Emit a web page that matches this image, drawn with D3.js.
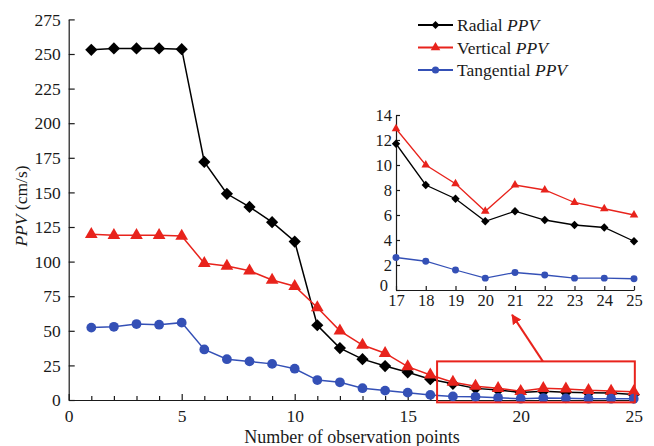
<!DOCTYPE html>
<html><head><meta charset="utf-8">
<script src="https://cdn.jsdelivr.net/npm/d3@7"></script>
<style>body{margin:0;background:#fff}svg{display:block}</style>
</head><body><svg id="c" width="654" height="446"></svg>
<script>
const points = d3.range(1, 26);
const radial = [253,254,254,254,253.5,172,149,139.5,128.5,114.5,54,37.5,29.5,24.5,20,15,11.7,8.4,7.3,5.5,6.3,5.6,5.2,5.0,3.9];
const vertical = [119.7,119,119,119,118.5,98.8,96.8,93.4,86.7,82.2,66.8,50,39.7,33.8,24.1,18.1,12.9,10.0,8.5,6.3,8.4,8.0,7.0,6.5,6.0];
const tangential = [52.3,52.9,54.9,54.4,55.9,36.5,29.5,27.9,26.1,22.6,14.4,12.8,8.5,6.8,5.3,3.7,2.6,2.3,1.6,0.95,1.4,1.2,0.95,0.95,0.9];
const seriesNames = ["Radial", "Vertical", "Tangential"];
const colors = ["#000000", "#e8231c", "#3450b6"];
const symbols = [d3.symbolDiamond2, d3.symbolTriangle, d3.symbolCircle];
const xTicks = [0,5,10,15,20,25];
const yTicks = [0,25,50,75,100,125,150,175,200,225,250,275];
const insetXTicks = [17,18,19,20,21,22,23,24,25];
const insetYTicks = [0,2,4,6,8,10,12,14];
const zoomRange = {x0: 16.3, x1: 25.05, y0: -1.7, y1: 27.9};

const FONT = "Liberation Serif";
const data = [radial, vertical, tangential];
const svg = d3.select("#c");
const x = d3.scaleLinear().domain([0,25]).range([68.7,633.7]);
const y = d3.scaleLinear().domain([0,275]).range([400,19.4]);

function styleAxis(g, fs){
  g.selectAll("path,line").attr("stroke","#1a1a1a").attr("stroke-width",1.2);
  g.selectAll("text").attr("font-size",fs);
}
// main axes
const xa = svg.append("g").attr("transform","translate(0,400)")
  .call(d3.axisBottom(x).tickValues(xTicks).tickSizeInner(-6).tickSizeOuter(0).tickPadding(10));
styleAxis(xa,17.5);
const xminor = svg.append("g").attr("transform","translate(0,400)")
  .call(d3.axisBottom(x).tickValues(points.filter(v=>v%5)).tickSize(-4).tickFormat(""));
xminor.select(".domain").remove();
styleAxis(xminor,16);
const ya = svg.append("g").attr("transform","translate(68.7,0)")
  .call(d3.axisLeft(y).tickValues(yTicks).tickSizeInner(-6).tickSizeOuter(0).tickPadding(8));
styleAxis(ya,17.5);

svg.append("text").attr("x",352).attr("y",443).attr("text-anchor","middle").attr("font-size",18)
  .text("Number of observation points");
const yl = svg.append("text").attr("transform","translate(27,206) rotate(-90)").attr("text-anchor","middle").attr("font-size",17.5);
yl.append("tspan").attr("font-style","italic").text("PPV");
yl.append("tspan").text(" (cm/s)");

function drawSeries(g, xs, ys, xVals, sizes, lw){
  data.forEach((vals,i)=>{
    const pts = xVals.map(p=>[p, vals[p-1]]);
    g.append("path").datum(pts).attr("fill","none").attr("stroke",colors[i]).attr("stroke-width",lw)
      .attr("d", d3.line().x(d=>xs(d[0])).y(d=>ys(d[1])));
    g.selectAll(null).data(pts).enter().append("path")
      .attr("transform",d=>`translate(${xs(d[0])},${ys(d[1])})`)
      .attr("d", d3.symbol().type(symbols[i]).size(sizes[i]))
      .attr("fill",colors[i]);
  });
}
drawSeries(svg.append("g"), x, y, points, [95,70,75], 1.5);

// zoom box and arrow
svg.append("rect").attr("x",x(zoomRange.x0)).attr("y",y(zoomRange.y1))
  .attr("width",x(zoomRange.x1)-x(zoomRange.x0)).attr("height",y(zoomRange.y0)-y(zoomRange.y1))
  .attr("fill","none").attr("stroke","#e8231c").attr("stroke-width",2);
svg.append("defs").append("marker").attr("id","ah").attr("viewBox","0 0 10 10").attr("refX",9).attr("refY",5)
  .attr("markerWidth",5).attr("markerHeight",5).attr("orient","auto-start-reverse")
  .append("path").attr("d","M0,0 L10,5 L0,10 z").attr("fill","#e8231c");
svg.append("line").attr("x1",x(20.98)).attr("y1",y(zoomRange.y1)).attr("x2",x(19.62)).attr("y2",y(61.5))
  .attr("stroke","#e8231c").attr("stroke-width",2).attr("marker-end","url(#ah)");

// inset
const ix = d3.scaleLinear().domain([17,25]).range([396,634]);
const iy = d3.scaleLinear().domain([0,14]).range([290,115]);
const inset = svg.append("g");
inset.append("rect").attr("x",396).attr("y",112).attr("width",240).attr("height",178).attr("fill","#fff");
const ixa = inset.append("g").attr("transform","translate(0,290)")
  .call(d3.axisBottom(ix).tickValues(insetXTicks).tickSizeInner(-4).tickSizeOuter(0).tickPadding(4));
styleAxis(ixa,16.5);
const iya = inset.append("g").attr("transform","translate(396,0)")
  .call(d3.axisLeft(iy).tickValues(insetYTicks).tickSizeInner(-4).tickSizeOuter(0).tickPadding(4));
styleAxis(iya,16.5);
iya.selectAll(".tick").filter(d=>d===0).select("text").attr("dy","0.05em").attr("x",-8);
drawSeries(inset.append("g"), ix, iy, d3.range(17,26), [45,32,38], 1.3);

// legend
const lg = svg.append("g");
seriesNames.forEach((n,i)=>{
  const yy = 25 + i*22.5;
  lg.append("line").attr("x1",418).attr("x2",453).attr("y1",yy).attr("y2",yy).attr("stroke",colors[i]).attr("stroke-width",2);
  lg.append("path").attr("transform",`translate(435.5,${yy})`).attr("d",d3.symbol().type(symbols[i]).size(40)).attr("fill",colors[i]);
  const t = lg.append("text").attr("x",457).attr("y",yy+6).attr("font-size",17.5);
  t.append("tspan").text(n+" ");
  t.append("tspan").attr("font-style","italic").text("PPV");
});
svg.selectAll("g").attr("font-family", FONT);
svg.selectAll("text").attr("font-family", FONT).attr("fill","#1a1a1a");
</script></body></html>
